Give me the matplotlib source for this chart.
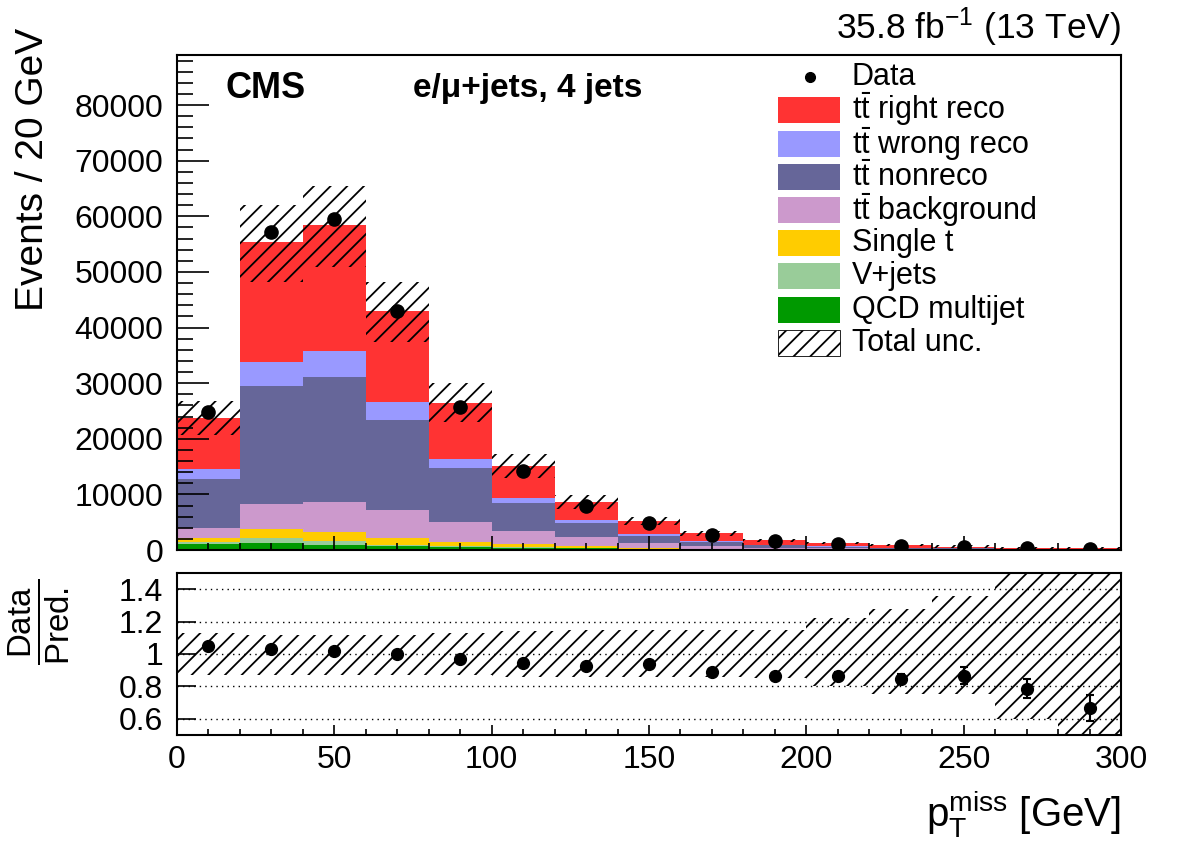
import numpy as np
import matplotlib
matplotlib.use("Agg")
import matplotlib.pyplot as plt
from matplotlib.patches import Rectangle

plt.rcParams['font.family'] = ['Liberation Sans', 'DejaVu Sans']
plt.rcParams['mathtext.fontset'] = 'custom'
plt.rcParams['mathtext.rm'] = 'Liberation Sans'
plt.rcParams['mathtext.it'] = 'Liberation Sans:italic'
plt.rcParams['mathtext.bf'] = 'Liberation Sans:bold'
plt.rcParams['hatch.linewidth'] = 1.3

# binning: 20 GeV bins from 0 to 300
edges = np.arange(0, 320, 20)

# stacked components (events), bottom to top
qcd     = [1100, 1300,  950,   700,  600,  400,  300,  200,  150,   90,   60,   40,   30,   20,   15]
vjets   = [ 350,  850,  600,   250,  150,  100,   50,   30,   20,   20,   15,   10,    8,    6,    4]
single  = [ 650, 1550, 1700,  1200,  700,  500,  300,  150,  100,   80,   60,   40,   30,   20,   15]
tt_bkg  = [1800, 4500, 5400,  5000, 3600, 2400, 1700,  800,  400,  220,  150,  100,   70,   50,   35]
tt_non  = [8900, 21300, 22500, 16200, 9650, 5100, 2550, 1400,  800,  450,  310,  210,  150,  105,   75]
tt_wrong = [1800, 4300, 4600,  3300, 1700,  900,  550,  250,  150,   90,   65,   45,   32,   22,   16]
tt_right = [9100, 21600, 22700, 16400, 10100, 5700, 3150, 2300, 1400,  850,  590,  405,  280,  197,  140]

data     = [24800, 57200, 59600, 43000, 25700, 14270, 7950, 4820, 2685, 1550, 1080, 720, 520, 330, 200]
data_err = [157, 239, 244, 207, 160, 119, 89, 69, 52, 39, 33, 27, 30, 25, 24]

# relative total uncertainty (up / down)
unc_up = [0.13, 0.12, 0.12, 0.12, 0.13, 0.14, 0.15, 0.15, 0.15, 0.15, 0.22, 0.28, 0.36, 0.50, 0.70]
unc_dn = [0.13, 0.13, 0.13, 0.13, 0.13, 0.14, 0.14, 0.14, 0.14, 0.15, 0.20, 0.25, 0.25, 0.40, 0.60]

labels = [r'$\mathrm{t\bar{t}}$ right reco', r'$\mathrm{t\bar{t}}$ wrong reco',
          r'$\mathrm{t\bar{t}}$ nonreco', r'$\mathrm{t\bar{t}}$ background',
          'Single t', 'V+jets', 'QCD multijet']
colors = ['#ff3333', '#9999ff', '#666699', '#cc99cc', '#ffcc00', '#99cc99', '#009900']

stack = [qcd, vjets, single, tt_bkg, tt_non, tt_wrong, tt_right]
stack_cols = colors[::-1]

left = edges[:-1]
centers = left + 10
width = 20

fig = plt.figure(figsize=(11.82, 8.48), dpi=100)
ax = fig.add_axes([0.1497, 0.3514, 0.7987, 0.5837])
rax = fig.add_axes([0.1497, 0.1333, 0.7987, 0.1910])

bottom = np.zeros(len(left))
for vals, c in zip(stack, stack_cols):
    vals = np.array(vals, dtype=float)
    ax.bar(left, vals, width=width, bottom=bottom, align='edge', color=c, linewidth=0)
    bottom += vals
total = bottom

up = np.array(unc_up)
dn = np.array(unc_dn)
ax.bar(left, total * (up + dn), width=width, bottom=total * (1 - dn), align='edge',
       facecolor='none', edgecolor='black', hatch='//', linewidth=0)

ax.errorbar(centers, data, yerr=data_err, fmt='o', color='black', ms=9.5,
            elinewidth=1.5, capsize=0)

ax.set_xlim(0, 300)
ax.set_ylim(0, 89000)
ax.set_xticks(np.arange(0, 301, 50))
ax.set_xticks(np.arange(0, 301, 10), minor=True)
ax.set_yticks(np.arange(0, 80001, 10000))
ax.set_yticks(np.arange(0, 89000, 2000), minor=True)
ax.tick_params(axis='both', which='both', direction='in', top=False, right=False,
               labelsize=23, width=1.2)
ax.tick_params(axis='y', which='major', length=23, pad=10)
ax.tick_params(axis='y', which='minor', length=11.5)
ax.tick_params(axis='x', which='major', length=10)
ax.tick_params(axis='x', which='minor', length=5)
ax.tick_params(axis='x', labelbottom=False)
for s in ax.spines.values():
    s.set_linewidth(1.5)

# legend drawn by hand (rows are tightly packed as in the original)
def px2ax(x, y):
    return (x - 177) / 944.0, (550 - y) / 495.0

bx0, _ = px2ax(778, 0)
bx1, _ = px2ax(840, 0)
tx, _ = px2ax(852, 0)
rows = [77, 109.5] + [144 + 33.1 * i for i in range(7)]
box_h = 26 / 495.0
leg_fs = 22
mx, my = px2ax(810, rows[0])
ax.plot([mx], [my], 'o', color='black', ms=7, transform=ax.transAxes, clip_on=False)
ax.text(tx, my, 'Data', transform=ax.transAxes, fontsize=leg_fs, va='center', ha='left')
for i, (lab, c) in enumerate(zip(labels, colors)):
    _, yc = px2ax(0, rows[i + 1])
    ax.add_patch(Rectangle((bx0, yc - box_h / 2), bx1 - bx0, box_h, transform=ax.transAxes,
                           facecolor=c, edgecolor='none'))
    ax.text(tx, yc, lab, transform=ax.transAxes, fontsize=leg_fs, va='center', ha='left')
_, yc = px2ax(0, rows[8])
ax.add_patch(Rectangle((bx0, yc - box_h / 2), bx1 - bx0, box_h, transform=ax.transAxes,
                       facecolor='white', edgecolor='black', hatch='//', linewidth=0.6))
ax.text(tx, yc, 'Total unc.', transform=ax.transAxes, fontsize=leg_fs, va='center', ha='left')

ax.text(0.051, 0.933, 'CMS', transform=ax.transAxes, fontsize=26, fontweight='bold',
        va='center', ha='left')
ax.text(0.25, 0.933, 'e/μ+jets, 4 jets', transform=ax.transAxes, fontsize=24,
        fontweight='bold', va='center', ha='left')
ax.text(1.0, 1.012, r'35.8 fb$^{-1}$ (13 TeV)', transform=ax.transAxes, fontsize=25.5,
        ha='right', va='bottom')

fig.text(0.028, 1 - 28 / 848, 'Events / 20 GeV', rotation=90, fontsize=28,
         ha='center', va='top')

# ratio panel
ratio = np.array(data) / total
ratio_err = np.array(data_err) / total
rax.bar(left, up + dn, width=width, bottom=1 - dn, align='edge',
        facecolor='none', edgecolor='black', hatch='//', linewidth=0)
for yv in [0.6, 0.8, 1.0, 1.2, 1.4]:
    rax.axhline(yv, color='black', linestyle=(0, (1, 3)), linewidth=1.0)
rax.errorbar(centers, ratio, yerr=ratio_err, fmt='o', color='black', ms=8.5,
             elinewidth=1.5, capsize=3, capthick=1.5)
rax.set_xlim(0, 300)
rax.set_ylim(0.5, 1.5)
rax.set_xticks(np.arange(0, 301, 50))
rax.set_xticks(np.arange(0, 301, 10), minor=True)
rax.set_yticks([0.6, 0.8, 1.0, 1.2, 1.4])
rax.set_yticklabels(['0.6', '0.8', '1', '1.2', '1.4'])
rax.tick_params(axis='both', which='both', direction='in', top=False, right=False,
                labelsize=23, width=1.2)
rax.tick_params(axis='y', which='major', length=14, pad=10)
rax.tick_params(axis='x', which='major', length=7, pad=7)
rax.tick_params(axis='x', which='minor', length=4)
for s in rax.spines.values():
    s.set_linewidth(1.5)

fig.text(0.034, 1 - 622 / 848, r'$\frac{\mathrm{Data}}{\mathrm{Pred.}}$', rotation=90,
         fontsize=34, ha='center', va='center')
fig.text(0.9484, 0.010, r'$\mathrm{p}_{\mathrm{T}}^{\mathrm{miss}}$ [GeV]', fontsize=29,
         ha='right', va='bottom')

fig.savefig('out.png', dpi=100)
